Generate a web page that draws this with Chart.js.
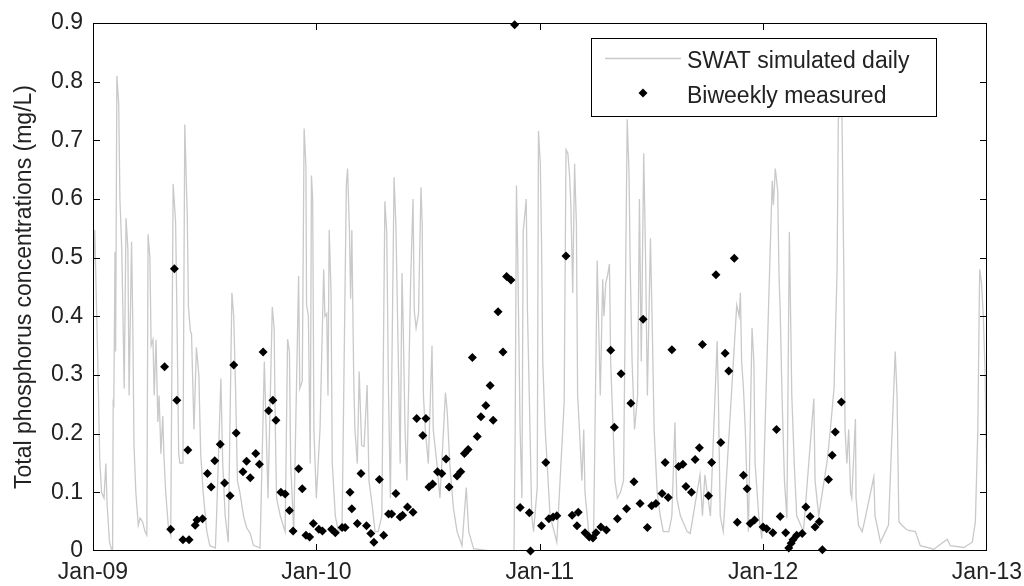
<!DOCTYPE html>
<html><head><meta charset="utf-8">
<script src="https://cdn.jsdelivr.net/npm/chart.js@4.4.1/dist/chart.umd.min.js"></script>
<style>html,body{margin:0;padding:0;background:#fff;}#wrap{width:1024px;height:586px;}</style>
</head><body>
<div id="wrap"><canvas id="c" width="1024" height="586"></canvas></div>
<script>
// ---- data (days since 1 Jan 2009) ----
const simDays = [
0,3,5,7,9,11,14,18,21,23, 27,31,32,33,34,36,37,39,42,44, 47,49,51,54,57,59,63,65,67,70,
74,77,81,85,88,90,93,95,98,100, 103,106,108,111,114,116,119,123,127,131, 135,137,140,142,147,150,154,156,159,161,
165,169,173,176,180,186,191,200,202,209, 212,216,221,227,230,233,236,240,
246,251,257,262,273,280,283,286,293,296, 298,300,306,314,318,321,323,328,336,338, 342,345,348,349,352,355,357,359,361,365,
368,371,377,379,382,384,386,389,391,396, 401,407,414,416,419,421,423,426,428,432, 435,439,443,448,451,456,461,466,472,477,
480,483,
486,492,495,499,502,505,507,510,513,519, 523,525,528,532,536,538,540,543,548,554, 556,562,567,576,579,583,589,595,603,610,
614,622,649,688,690,692,694,698,701,703, 708,710,713,717,720,726,728,731,
733,735,739,747,758,770,773,776,779,781, 784,787,790,792,795,799,802,804,810,818, 824,829,833,835,838,841,844,846,850,853,
857,862,867,873,876,878,881,885,890,893, 896,900,903,906,911,914,917,922,927,932, 941,946,951,954,960,971,
976,992,996,1000,1009,1020,1022,1025,1030,1052, 1056,1058,1060,1063,1066,1071,1077,1080,1082,1088,
1093,1110,1112,1115,1119,1121,1123,1126,1130,1134, 1138,1142,1146,1150,1161,1178,1180,1186,1200,1205, 1211,1216,1218,
1221,1224,1227,1229,1232,1235,1238,1240,1246,1247, 1251,1257,1262,1276,1278,1287,1295,1300,1311,1314,
1317,1322,1328,1333,1344,1352,1374,1396,1401,1423, 1437,1442,1446,1449,1452,1455,1458,1461
];
const simTP = [
.46,.547,.45,.36,.265,.155,.10,.09,.149,.08, .015,0,0,.253,.25,.51,.34,.81,.763,.60, .515,.40,.277,.567,.515,.265,.527,.39,.18,.10,
.044,.056,.05,.033,.027,.54,.50,.35,.36,.265, .36,.22,.265,.166,.23,.16,.097,.044,.027,.626, .56,.416,.166,.15,.15,.727,.573,.416,.376,.37,
.207,.347,.30,.166,.10,.033,.009,.005,.06,.294, .149,.06,.015,.44,.40,.277,.12,.10,
.06,.04,.03,.01,.005,.323,.207,.09,.416,.38, .207,.09,.06,.033,.361,.34,.15,.033,.469,.277, .29,.72,.655,.42,.40,.149,.64,.60,.207,.09,
.149,.207,.48,.40,.405,.265,.547,.44,.149,.06, .033,.038,.623,.652,.55,.43,.547,.30,.207,.149, .306,.18,.178,.283,.12,.08,.033,.033,.06,.596,
.544,.265,
.09,.637,.556,.323,.149,.474,.38,.207,.12,.457, .60,.41,.38,.405,.62,.556,.265,.207,.149,.35, .207,.149,.09,.27,.236,.149,.073,.033,.009,.108,
.033,.004,0,0,.213,.623,.51,.207,.09,.544, .60,.41,.265,.06,.033,.108,.716,.66,
.527,.323,.207,.06,.015,.253,.684,.678,.637,.588, .44,.66,.556,.265,.207,.12,.207,.10,.033,.021, .495,.265,.463,.40,.457,.47,.489,.323,.207,.12,
.09,.10,.12,.736,.643,.48,.323,.207,.265,.60, .323,.678,.50,.265,.533,.38,.207,.10,.06,.033, .033,.06,.219,.09,.06,.033,
.03,.13,.06,.13,.06,.358,.265,.06,.033,.419, .40,.44,.323,.277,.207,.033,.38,.323,.149,.06,
.021,.631,.59,.652,.614,.474,.41,.265,.12,.056, .544,.265,.149,.06,.033,.26,.12,.06,.155,.207, .277,.48,.736,
.746,.74,.48,.207,.149,.207,.10,.09,.225,.09, .044,.033,.056,.126,.06,.015,.033,.044,.34,.265,
.05,.044,.038,.035,.033,.009,.003,.02,.009,.006, .015,.05,.207,.48,.457,.40,.30,.05
];
const measDays = [
117,127,133,137,147,155,157,167,170,179, 187,193,199,208,215,224,230,234,245,251,
257,266,272,278,287,294,299,307,314,321, 327,336,342,348,354,360,369,375,390,396,
407,412,420,423,432,438,447,454,459,468, 475,483,488,495,502,506,514,523,529,539,
544,549,555,563,570,577,582,595,601,607, 613,620,628,634,642,649,654,662,670,676,
683,689,698,713,715,733,740,745,752,758, 773,783,791,793,804,811,817,822,830,839,
846,852,857,863,872,879,884,894,899,906, 913,920,930,935,940,946,957,964,969,978,
984,991,996,1006,1011,1018,1026,1033,1039,1048, 1053,1063,1069,1074,1081,1095,1101,1111,1117,1123,
1132,1137,1141,1144,1150,1159,1165,1172,1180,1187, 1192,1202,1208,1213,1223
];
const measTP = [
.314,.037,.481,.257,.019,.172,.019,.044,.053,.055, .132,.109,.154,.182,.116,.094,.317,.201,.135,.153,
.125,.166,.148,.339,.239,.257,.223,.100,.097,.069, .034,.140,.106,.027,.024,.047,.037,.034,.037,.031,
.040,.040,.100,.072,.047,.132,.043,.030,.015,.122, .027,.063,.063,.098,.058,.061,.075,.066,.226,.197,
.226,.109,.114,.135,.132,.157,.109,.128,.135,.166, .173,.330,.195,.229,.248,.282,.223,.408,.339,.468,
.462,.897,.074,.065,0,.043,.151,.055,.058,.060, .503,.061,.043,.066,.031,.024,.022,.031,.041,.036,
.342,.211,.055,.302,.072,.252,.118,.081,.395,.040, .077,.081,.098,.151,.091,.343,.144,.148,.110,.100,
.156,.176,.352,.094,.151,.471,.185,.337,.307,.499, .049,.129,.106,.047,.053,.041,.038,.031,.207,.059,
.031,.005,.013,.019,.027,.030,.075,.059,.041,.050, .002,.122,.163,.203,.254
];
const xTickDays = [0, 365, 730, 1095, 1461];
const xTickLabels = ['Jan-09', 'Jan-10', 'Jan-11', 'Jan-12', 'Jan-13'];
const yTickValues = [0, 0.1, 0.2, 0.3, 0.4, 0.5, 0.6, 0.7, 0.8, 0.9];
const yTickLabels = ['0', '0.1', '0.2', '0.3', '0.4', '0.5', '0.6', '0.7', '0.8', '0.9'];
const seriesNames = ['SWAT simulated daily', 'Biweekly measured'];
const yTitle = 'Total phosphorus concentrations (mg/L)';

// ---- styles ----
const FONT = "'Liberation Sans', Arial, sans-serif";
const TXT = '#222';
const FRAME_LEN = 7;
const LEG = {width: 345, height: 78, offsetRight: 51, offsetTop: 15, fontSize: 23};

const simData = simDays.map((d, i) => ({x: d, y: simTP[i]}));
const measData = measDays.map((d, i) => ({x: d, y: measTP[i]}));

function drawFrame(chart) {
  const ctx = chart.ctx, a = chart.chartArea, xs = chart.scales.x, ys = chart.scales.y;
  const L = Math.round(a.left), R = Math.round(a.right) - 1;
  const T = Math.round(a.top), B = Math.round(a.bottom) - 1;
  ctx.save();
  ctx.globalAlpha = 1;
  ctx.globalCompositeOperation = 'source-over';
  ctx.fillStyle = '#000000';
  ctx.fillRect(L, T, R - L + 1, 1);
  ctx.fillRect(L, B, R - L + 1, 1);
  ctx.fillRect(L, T, 1, B - T + 1);
  ctx.fillRect(R, T, 1, B - T + 1);
  for (const d of xTickDays) {
    const px = Math.round(xs.getPixelForValue(d));
    const cx = Math.min(Math.max(px, L), R);
    ctx.fillRect(cx, B - FRAME_LEN + 1, 1, FRAME_LEN);
    ctx.fillRect(cx, T, 1, FRAME_LEN);
  }
  for (const v of yTickValues) {
    const py = Math.round(ys.getPixelForValue(v));
    const cy = Math.min(Math.max(py, T), B);
    ctx.fillRect(L, cy, FRAME_LEN, 1);
    ctx.fillRect(R - FRAME_LEN + 1, cy, FRAME_LEN, 1);
  }
  ctx.restore();
}

function drawLegendBox(chart) {
  const ctx = chart.ctx, a = chart.chartArea, o = LEG;
  const x0 = Math.round(a.right - o.offsetRight - o.width), y0 = Math.round(a.top + o.offsetTop);
  ctx.save();
  ctx.fillStyle = '#fff';
  ctx.fillRect(x0, y0, o.width, o.height);
  ctx.strokeStyle = '#000'; ctx.lineWidth = 1;
  ctx.strokeRect(x0 + 0.5, y0 + 0.5, o.width, o.height);
  const dsLine = chart.data.datasets[0], dsPts = chart.data.datasets[1];
  ctx.strokeStyle = dsLine.borderColor; ctx.lineWidth = dsLine.borderWidth;
  ctx.beginPath();
  ctx.moveTo(x0 + 14, y0 + 20.5); ctx.lineTo(x0 + 90, y0 + 20.5);
  ctx.stroke();
  ctx.fillStyle = dsPts.backgroundColor; ctx.strokeStyle = dsPts.borderColor;
  Chart.helpers.drawPoint(ctx, {pointStyle: dsPts.pointStyle, radius: dsPts.pointRadius, borderWidth: 0, rotation: 0}, x0 + 52, y0 + 55);
  ctx.fillStyle = TXT;
  ctx.font = o.fontSize + 'px ' + FONT;
  ctx.textBaseline = 'alphabetic'; ctx.textAlign = 'left';
  ctx.fillText(dsLine.label, x0 + 96, y0 + 30);
  ctx.fillText(dsPts.label, x0 + 96, y0 + 65);
  ctx.restore();
}

const overlay = {
  id: 'overlayFrameLegend',
  afterDraw(chart) { drawFrame(chart); drawLegendBox(chart); }
};

new Chart(document.getElementById('c'), {
  data: {
    datasets: [
      {type: 'line', label: seriesNames[0], data: simData, borderColor: '#c9c9c9', borderWidth: 1.3,
       pointRadius: 0, tension: 0, fill: false, order: 2},
      {type: 'scatter', label: seriesNames[1], data: measData, pointStyle: 'rectRot', pointRadius: 4.5,
       backgroundColor: '#000', borderColor: '#000', borderWidth: 0, order: 1, clip: false}
    ]
  },
  options: {
    responsive: false, animation: false, devicePixelRatio: 1,
    layout: {padding: {top: 23, right: 37, left: 0, bottom: 0}},
    plugins: {legend: {display: false}, tooltip: {enabled: false}},
    scales: {
      x: {
        type: 'linear', min: 0, max: 1461,
        afterBuildTicks: s => { s.ticks = xTickDays.map(v => ({value: v})); },
        afterFit: s => { s.height = 35; s.paddingLeft = 0; s.paddingRight = 0; },
        grid: {display: false, drawTicks: false}, border: {display: false},
        ticks: {autoSkip: false, maxRotation: 0, padding: 8, color: TXT, font: {family: FONT, size: 23},
                callback: (v, i) => xTickLabels[i]}
      },
      y: {
        type: 'linear', min: 0, max: 0.9,
        afterBuildTicks: s => { s.ticks = yTickValues.map(v => ({value: v})); },
        afterFit: s => { s.width = 93; s.paddingTop = 0; s.paddingBottom = 0; },
        grid: {display: false, drawTicks: false}, border: {display: false},
        ticks: {padding: 10, color: TXT, font: {family: FONT, size: 23},
                callback: (v, i) => yTickLabels[i]},
        title: {display: true, text: yTitle, color: TXT, font: {family: FONT, size: 23}, padding: {top: 11, bottom: 0}}
      }
    }
  },
  plugins: [overlay]
});
</script>
</body></html>
